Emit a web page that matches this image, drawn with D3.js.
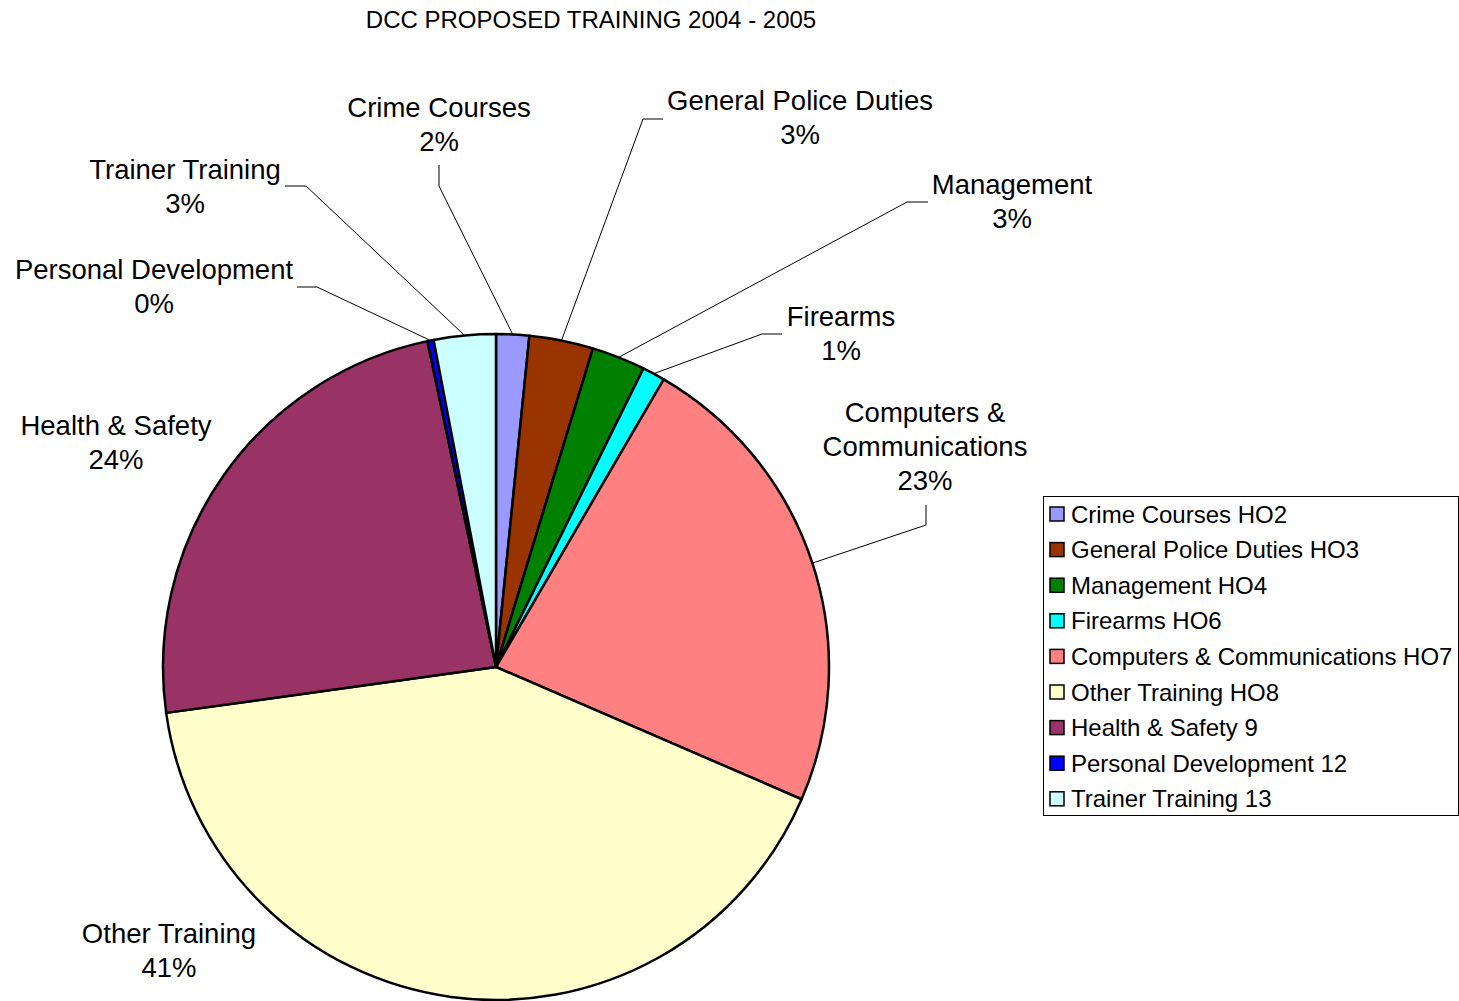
<!DOCTYPE html>
<html>
<head>
<meta charset="utf-8">
<script src="https://cdn.jsdelivr.net/npm/d3@7"></script>
<style>
  body { margin: 0; background: #fff; }
  svg { display: block; font-family: Arial, "Liberation Sans", sans-serif; }
</style>
</head>
<body>
<svg id="chart" width="1459" height="1001"></svg>
<script>
// slice data, clockwise from 12 o'clock
var categories = ["Crime Courses", "General Police Duties", "Management", "Firearms",
                  "Computers & Communications", "Other Training", "Health & Safety",
                  "Personal Development", "Trainer Training"];
var legendNames = ["Crime Courses HO2", "General Police Duties HO3", "Management HO4",
                   "Firearms HO6", "Computers & Communications HO7", "Other Training HO8",
                   "Health & Safety 9", "Personal Development 12", "Trainer Training 13"];
var values = [1.6, 3.1, 2.6, 1.1, 23.1, 41.3, 23.9, 0.3, 3.0];
var colors = ["#9999FF", "#993300", "#008000", "#00FFFF", "#FF8080",
              "#FFFFCC", "#993366", "#0000FF", "#CCFFFF"];
var labelLines = [["Crime Courses"], ["General Police Duties"], ["Management"], ["Firearms"],
                  ["Computers &", "Communications"], ["Other Training"], ["Health & Safety"],
                  ["Personal Development"], ["Trainer Training"]];

// label placement (layout only): centre x, first baseline, leader elbow points
var labelPos = [
    {x: 439, y: 117, leader: [[439, 165], [439, 186]]},
    {x: 800, y: 110, leader: [[663, 119], [643, 119]]},
    {x: 1012, y: 194, leader: [[928, 202], [907, 202]]},
    {x: 841, y: 326, leader: [[782, 334], [762, 334]]},
    {x: 925, y: 422, leader: [[926, 505], [926, 525]]},
    {x: 169, y: 943, leader: null},
    {x: 116, y: 435, leader: null},
    {x: 154, y: 279, leader: [[297, 287], [317, 287]]},
    {x: 185, y: 179, leader: [[285, 186], [306, 186]]}
];

var svg = d3.select("#chart");

var cx = 496, cy = 667, radius = 333;
var lineGap = 34;

// title
svg.append("text")
    .attr("x", 591)
    .attr("y", 28)
    .attr("text-anchor", "middle")
    .style("font-size", "24px")
    .text("DCC PROPOSED TRAINING 2004 - 2005");

var total = d3.sum(values);
var pie = d3.pie().sort(null).value(function(d) { return d; });
var arcs = pie(values);
var arc = d3.arc().innerRadius(0).outerRadius(radius);

var pieG = svg.append("g")
    .attr("transform", "translate(" + cx + "," + cy + ")");

pieG.selectAll("path.slice")
    .data(arcs)
    .enter()
    .append("path")
    .attr("class", "slice")
    .attr("d", arc)
    .style("fill", function(d, i) { return colors[i]; })
    .style("stroke", "#000")
    .style("stroke-width", 2.5)
    .style("stroke-linejoin", "round");

// leader lines
var line = d3.line();
arcs.forEach(function(d, i) {
    var lp = labelPos[i];
    if (!lp.leader) return;
    var a = (d.startAngle + d.endAngle) / 2;
    var edge = [cx + radius * Math.sin(a), cy - radius * Math.cos(a)];
    svg.append("path")
        .attr("d", line(lp.leader.concat([edge])))
        .style("fill", "none")
        .style("stroke", "#000")
        .style("stroke-width", 1);
});

// labels
arcs.forEach(function(d, i) {
    var lp = labelPos[i];
    var lines = labelLines[i].concat([Math.round(values[i] / total * 100) + "%"]);
    var t = svg.append("text")
        .attr("text-anchor", "middle")
        .style("font-size", "27.5px");
    lines.forEach(function(s, k) {
        t.append("tspan")
            .attr("x", lp.x)
            .attr("y", lp.y + k * lineGap)
            .text(s);
    });
});

// legend
var lgX = 1043, lgY = 496, lgW = 415, lgH = 319;
var rowH = 35.6, row0 = 514;
var legend = svg.append("g").attr("id", "legend");
legend.append("rect")
    .attr("x", lgX + 0.5)
    .attr("y", lgY + 0.5)
    .attr("width", lgW)
    .attr("height", lgH)
    .style("fill", "#fff")
    .style("stroke", "#000")
    .style("stroke-width", 1);

var rows = legend.selectAll("g.row")
    .data(legendNames)
    .enter()
    .append("g")
    .attr("class", "row")
    .attr("transform", function(d, i) { return "translate(0," + (row0 + i * rowH) + ")"; });

rows.append("rect")
    .attr("x", 1050)
    .attr("y", -7)
    .attr("width", 14)
    .attr("height", 14)
    .style("fill", function(d, i) { return colors[i]; })
    .style("stroke", "#000")
    .style("stroke-width", 1.5);

rows.append("text")
    .attr("x", 1071)
    .attr("y", 8.5)
    .style("font-size", "24px")
    .text(function(d) { return d; });
</script>
</body>
</html>
